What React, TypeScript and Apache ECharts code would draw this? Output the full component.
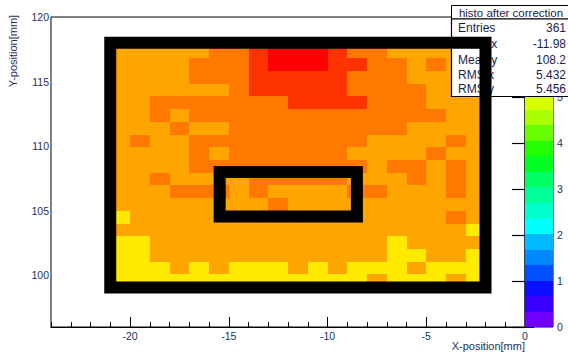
import React, { useEffect, useRef } from "react";
import * as echarts from "echarts";

// ---- histogram binning ----
const xBinStart = -21;
const xBinWidth = 1;
const yBinStart = 99.08;
const yBinHeight = 0.985;

// ---- bin contents, top row first ----
const row0 = [5.55, 5.55, 5.55, 5.55, 5.55, 5.9, 5.9, 6.25, 6.6, 6.6, 6.6, 6.25, 5.9, 5.9, 5.55, 5.55, 5.55, 5.55, 5.55];
const row1 = [5.55, 5.55, 5.55, 5.55, 5.9, 5.9, 5.9, 6.25, 6.6, 6.6, 6.6, 6.25, 6.25, 5.9, 5.9, 5.55, 5.9, 5.55, 5.55];
const row2 = [5.55, 5.55, 5.55, 5.55, 5.9, 5.9, 5.9, 6.25, 6.25, 6.25, 6.25, 6.25, 5.9, 5.9, 5.9, 5.55, 5.55, 5.55, 5.55];
const row3 = [5.55, 5.55, 5.55, 5.55, 5.55, 5.55, 5.9, 6.25, 6.25, 6.25, 6.25, 6.25, 5.9, 5.9, 5.9, 5.9, 5.55, 5.55, 5.55];
const row4 = [5.55, 5.55, 5.9, 5.9, 5.9, 5.9, 5.9, 5.9, 5.9, 6.25, 6.25, 6.25, 6.25, 5.9, 5.9, 5.9, 5.55, 5.55, 5.55];
const row5 = [5.55, 5.55, 5.9, 5.55, 5.9, 5.9, 5.9, 5.9, 5.9, 5.9, 5.9, 5.9, 5.9, 5.9, 5.9, 5.9, 5.9, 5.55, 5.55];
const row6 = [5.55, 5.55, 5.55, 5.9, 5.55, 5.55, 5.9, 5.9, 5.9, 5.9, 5.9, 5.9, 5.9, 5.9, 5.9, 5.55, 5.55, 5.55, 5.55];
const row7 = [5.55, 5.9, 5.55, 5.55, 5.9, 5.9, 5.9, 5.9, 5.9, 5.9, 5.9, 5.9, 5.9, 5.55, 5.55, 5.55, 5.55, 5.9, 5.55];
const row8 = [5.55, 5.55, 5.55, 5.55, 5.9, 5.55, 5.9, 5.9, 5.9, 5.9, 5.9, 5.9, 5.55, 5.55, 5.55, 5.55, 5.9, 5.55, 5.55];
const row9 = [5.55, 5.55, 5.55, 5.55, 5.9, 5.9, 5.9, 5.9, 5.9, 5.9, 5.9, 5.9, 5.9, 5.55, 5.9, 5.9, 5.55, 5.9, 5.55];
const row10 = [5.55, 5.55, 5.9, 5.55, 5.55, 5.55, 5.55, 5.9, 5.9, 5.9, 5.9, 5.9, 5.55, 5.55, 5.55, 5.9, 5.55, 5.9, 5.55];
const row11 = [5.55, 5.55, 5.55, 5.9, 5.9, 5.9, 5.55, 5.9, 5.55, 5.55, 5.55, 5.55, 5.9, 5.9, 5.55, 5.55, 5.55, 5.9, 5.55];
const row12 = [5.55, 5.55, 5.55, 5.55, 5.55, 5.55, 5.55, 5.55, 5.9, 5.55, 5.55, 5.55, 5.55, 5.55, 5.55, 5.55, 5.55, 5.55, 5.55];
const row13 = [5.2, 5.55, 5.55, 5.55, 5.55, 5.55, 5.55, 5.55, 5.55, 5.55, 5.55, 5.55, 5.55, 5.55, 5.55, 5.55, 5.55, 5.9, 5.55];
const row14 = [5.55, 5.55, 5.55, 5.55, 5.55, 5.55, 5.55, 5.55, 5.55, 5.55, 5.55, 5.55, 5.55, 5.55, 5.55, 5.55, 5.55, 5.55, 5.2];
const row15 = [5.2, 5.2, 5.55, 5.55, 5.55, 5.55, 5.55, 5.55, 5.55, 5.55, 5.55, 5.55, 5.55, 5.55, 5.2, 5.55, 5.55, 5.55, 5.55];
const row16 = [5.2, 5.2, 5.55, 5.55, 5.55, 5.55, 5.55, 5.55, 5.55, 5.55, 5.55, 5.55, 5.55, 5.55, 5.2, 5.2, 5.55, 5.55, 5.2];
const row17 = [5.2, 5.2, 5.2, 5.55, 5.2, 5.55, 5.2, 5.2, 5.2, 5.55, 5.2, 5.55, 5.2, 5.2, 5.2, 5.55, 5.2, 5.2, 5.2];
const row18 = [5.2, 5.2, 5.2, 5.2, 5.2, 5.2, 5.2, 5.2, 5.2, 5.2, 5.2, 5.2, 5.2, 5.55, 5.2, 5.2, 5.2, 5.55, 5.2];
const rows = [row0, row1, row2, row3, row4, row5, row6, row7, row8, row9, row10, row11, row12, row13, row14, row15, row16, row17, row18];

// ---- color scale ----
const zMax = 6.74;
const palette = [
  "#7000ff", "#3a00ff", "#0a10ff", "#0050ff", "#0088ff",
  "#00bbff", "#00ffff", "#00ffcc", "#00ff99", "#00ff66",
  "#00ff22", "#22ff00", "#66ff00", "#a8ff00", "#d8ff00",
  "#ffea00", "#ffa500", "#ff7800", "#ff3300", "#ff0000",
];
const zTicks = [0, 1, 2, 3, 4, 5];

// ---- axes ----
const xRange = [-24, 0];
const yRange = [96, 120];
const xMajorTicks = [-20, -15, -10, -5, 0];
const yMajorTicks = [100, 105, 110, 115, 120];

// ---- drawn boxes [x1, y1, x2, y2] ----
const outerBox = [-21, 99.05, -2, 118];
const innerBox = [-15.46, 104.55, -8.51, 108.0];

// ---- stats ----
const statsTitle = "histo after correction";
const statsLabels = ["Entries", "Mean x", "Mean y", "RMS x", "RMS y"];
const statsValues = ["361", "-11.98", "108.2", "5.432", "5.456"];

const FONT = "'Liberation Sans', Arial, Helvetica, sans-serif";
const LABEL_COLOR = "#22305f";
const STATS_COLOR = "#1c1c50";

export default function App() {
  const ref = useRef<HTMLDivElement>(null);

  useEffect(() => {
    if (!ref.current) return;
    const chart = echarts.init(ref.current, undefined, { renderer: "svg" });

    const nRows = rows.length;
    const heatData: number[][] = [];
    rows.forEach((row, r) => {
      row.forEach((v, c) => {
        const xc = xBinStart + (c + 0.5) * xBinWidth;
        const yc = yBinStart + (nRows - 1 - r + 0.5) * yBinHeight;
        heatData.push([xc, yc, v]);
      });
    });

    const step = zMax / palette.length;
    const pieces = palette.map((color, i) => ({
      gte: i * step,
      lt: i === palette.length - 1 ? zMax + 10 : (i + 1) * step,
      color,
    }));
    const barData = palette.map((_, i) => [i * step, (i + 1) * step, i]);

    const statsRowsY = [28, 44, 59.5, 75, 88.5];
    const graphics: any[] = [
      {
        type: "rect",
        z: 50,
        shape: { x: 451.5, y: 5.5, width: 122, height: 13.5 },
        style: { fill: "#fff", stroke: "#000", lineWidth: 1 },
      },
      {
        type: "rect",
        z: 50,
        shape: { x: 451.5, y: 19, width: 122, height: 77.5 },
        style: { fill: "#fff", stroke: "#000", lineWidth: 1.2 },
      },
      {
        type: "text",
        z: 51,
        x: 511,
        y: 12.5,
        style: {
          text: statsTitle,
          fontSize: 11.5,
          fontFamily: FONT,
          fill: STATS_COLOR,
          align: "center",
          verticalAlign: "middle",
        },
      },
      {
        type: "text",
        z: 10,
        x: 13,
        y: 51,
        rotation: Math.PI / 2,
        style: {
          text: "Y-position[mm]",
          fontSize: 11,
          fontFamily: FONT,
          fill: LABEL_COLOR,
          align: "center",
          verticalAlign: "middle",
        },
      },
      {
        type: "text",
        z: 10,
        x: 525,
        y: 346,
        style: {
          text: "X-position[mm]",
          fontSize: 11,
          fontFamily: FONT,
          fill: LABEL_COLOR,
          align: "right",
          verticalAlign: "middle",
        },
      },
    ];
    statsLabels.forEach((lab, i) => {
      graphics.push({
        type: "text",
        z: 51,
        x: 458,
        y: statsRowsY[i],
        style: { text: lab, fontSize: 12, fontFamily: FONT, fill: STATS_COLOR, align: "left", verticalAlign: "middle" },
      });
      graphics.push({
        type: "text",
        z: 51,
        x: 566,
        y: statsRowsY[i],
        style: { text: statsValues[i], fontSize: 12, fontFamily: FONT, fill: STATS_COLOR, align: "right", verticalAlign: "middle" },
      });
    });

    const axisLine = { show: true, lineStyle: { color: "#000", width: 1 } };

    chart.setOption({
      animation: false,
      textStyle: { fontFamily: FONT },
      grid: [
        { left: 51, top: 17, width: 474, height: 310, show: true, borderColor: "#000", borderWidth: 1, containLabel: false },
        { left: 525, top: 17, width: 28, height: 310, show: true, borderColor: "#000", borderWidth: 1, containLabel: false },
      ],
      xAxis: [
        {
          gridIndex: 0, type: "value", min: xRange[0], max: xRange[1], interval: 1, position: "bottom",
          axisLine, axisTick: { show: true, inside: true, length: 5, lineStyle: { color: "#000" } },
          axisLabel: { show: false }, splitLine: { show: false },
        },
        {
          gridIndex: 0, type: "value", min: xRange[0], max: xRange[1], position: "bottom",
          axisLine: { show: false },
          axisTick: { show: true, inside: true, length: 10, customValues: xMajorTicks, lineStyle: { color: "#000" } },
          axisLabel: { show: true, customValues: xMajorTicks, fontSize: 10.5, color: LABEL_COLOR, margin: 3 },
          splitLine: { show: false },
        },
        { gridIndex: 1, type: "value", min: 0, max: 1, show: false },
      ],
      yAxis: [
        {
          gridIndex: 0, type: "value", min: yRange[0], max: yRange[1], interval: 1, position: "left",
          axisLine, axisTick: { show: true, inside: true, length: 9, lineStyle: { color: "#000" } },
          axisLabel: { show: false }, splitLine: { show: false },
        },
        {
          gridIndex: 0, type: "value", min: yRange[0], max: yRange[1], position: "left",
          axisLine: { show: false },
          axisTick: { show: true, inside: true, length: 16, customValues: yMajorTicks, lineStyle: { color: "#000" } },
          axisLabel: { show: true, customValues: yMajorTicks, fontSize: 10.5, color: LABEL_COLOR, margin: 2 },
          splitLine: { show: false },
        },
        {
          gridIndex: 1, type: "value", min: 0, max: zMax, position: "right", z: 20,
          axisLine: { show: false },
          axisTick: { show: true, inside: true, length: 13, customValues: zTicks, lineStyle: { color: "#000", width: 1.2 } },
          axisLabel: { show: true, customValues: zTicks, fontSize: 10.5, color: LABEL_COLOR, margin: 4 },
          splitLine: { show: false },
        },
      ],
      visualMap: [
        { type: "piecewise", show: false, seriesIndex: 0, dimension: 2, pieces },
      ],
      graphic: { elements: graphics },
      series: [
        {
          type: "custom",
          xAxisIndex: 0,
          yAxisIndex: 0,
          z: 2,
          data: heatData,
          encode: { x: 0, y: 1 },
          renderItem: (params: any, api: any) => {
            const xc = api.value(0);
            const yc = api.value(1);
            const p1 = api.coord([xc - xBinWidth / 2, yc + yBinHeight / 2]);
            const p2 = api.coord([xc + xBinWidth / 2, yc - yBinHeight / 2]);
            const x = Math.round(p1[0]);
            const y = Math.round(p1[1]);
            return {
              type: "rect",
              shape: { x, y, width: Math.round(p2[0]) - x, height: Math.round(p2[1]) - y },
              style: { fill: api.visual("color") },
            };
          },
        },
        {
          type: "custom",
          xAxisIndex: 2,
          yAxisIndex: 2,
          z: 1,
          data: barData,
          encode: { y: [0, 1] },
          renderItem: (params: any, api: any) => {
            const lo = api.value(0);
            const hi = api.value(1);
            const idx = api.value(2);
            const p1 = api.coord([0, hi]);
            const p2 = api.coord([1, lo]);
            const y = Math.round(p1[1]);
            return {
              type: "rect",
              shape: { x: p1[0], y, width: p2[0] - p1[0], height: Math.round(p2[1]) - y },
              style: { fill: palette[idx] },
            };
          },
        },
        {
          type: "custom",
          xAxisIndex: 0,
          yAxisIndex: 0,
          z: 100,
          data: [outerBox, innerBox],
          encode: { x: [0, 2], y: [1, 3] },
          renderItem: (params: any, api: any) => {
            const p1 = api.coord([api.value(0), api.value(3)]);
            const p2 = api.coord([api.value(2), api.value(1)]);
            return {
              type: "rect",
              shape: { x: p1[0], y: p1[1], width: p2[0] - p1[0], height: p2[1] - p1[1] },
              style: { fill: "none", stroke: "#000", lineWidth: 12 },
            };
          },
        },
      ],
    });

    return () => chart.dispose();
  }, []);

  return (
    <div
      ref={ref}
      style={{ position: "absolute", left: 0, top: 0, width: 568, height: 352, background: "#fff" }}
    />
  );
}
